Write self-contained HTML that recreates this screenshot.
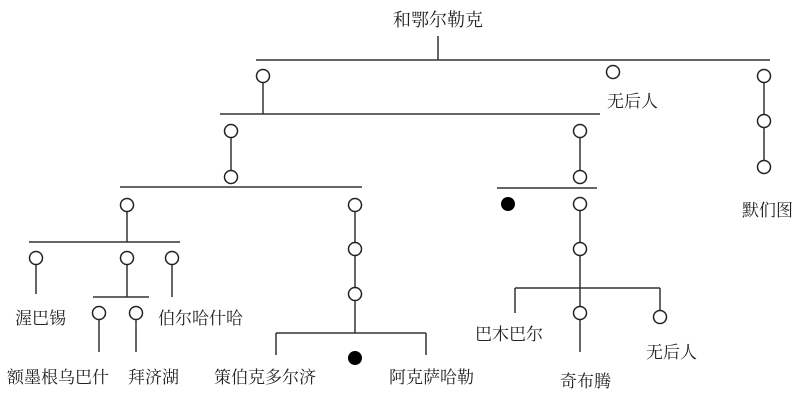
<!DOCTYPE html>
<html><head><meta charset="utf-8"><style>
html,body{margin:0;padding:0;background:#fff;}
svg text{font-family:"Liberation Serif","Noto Serif CJK SC",serif;font-size:17px;fill:#222;}
</style></head><body>
<svg width="800" height="404" viewBox="0 0 800 404" xmlns="http://www.w3.org/2000/svg">
<g stroke="#333" stroke-width="1.5" fill="none">
<line x1="438" y1="36" x2="438" y2="60"/>
<line x1="256" y1="60" x2="770" y2="60"/>
<line x1="263" y1="82" x2="263" y2="114"/>
<line x1="220" y1="114" x2="600" y2="114"/>
<line x1="231" y1="137" x2="231" y2="171"/>
<line x1="580" y1="137" x2="580" y2="171"/>
<line x1="764" y1="82" x2="764" y2="115"/>
<line x1="764" y1="127" x2="764" y2="161"/>
<line x1="120" y1="187" x2="362" y2="187"/>
<line x1="497" y1="188" x2="597" y2="188"/>
<line x1="127" y1="211" x2="127" y2="242"/>
<line x1="29" y1="242" x2="180" y2="242"/>
<line x1="36" y1="264" x2="36" y2="294"/>
<line x1="127" y1="264" x2="127" y2="297"/>
<line x1="172" y1="264" x2="172" y2="297"/>
<line x1="93" y1="297" x2="149" y2="297"/>
<line x1="99" y1="319" x2="99" y2="352"/>
<line x1="136" y1="319" x2="136" y2="352"/>
<line x1="355" y1="211" x2="355" y2="243"/>
<line x1="355" y1="255" x2="355" y2="288"/>
<line x1="355" y1="300" x2="355" y2="333"/>
<line x1="276" y1="333" x2="426" y2="333"/>
<line x1="276" y1="333" x2="276" y2="355"/>
<line x1="426" y1="333" x2="426" y2="355"/>
<line x1="580" y1="210" x2="580" y2="243"/>
<line x1="580" y1="255" x2="580" y2="288"/>
<line x1="515" y1="288" x2="660" y2="288"/>
<line x1="515" y1="288" x2="515" y2="313"/>
<line x1="580" y1="288" x2="580" y2="307"/>
<line x1="580" y1="319" x2="580" y2="352"/>
<line x1="660" y1="288" x2="660" y2="311"/>
</g>
<g stroke="#222" stroke-width="1.5" fill="#fff">
<circle cx="263" cy="76" r="6.5"/>
<circle cx="613" cy="72" r="6.5"/>
<circle cx="764" cy="76" r="6.5"/>
<circle cx="231" cy="131" r="6.5"/>
<circle cx="231" cy="177" r="6.5"/>
<circle cx="580" cy="131" r="6.5"/>
<circle cx="580" cy="177" r="6.5"/>
<circle cx="764" cy="121" r="6.5"/>
<circle cx="764" cy="167" r="6.5"/>
<circle cx="127" cy="205" r="6.5"/>
<circle cx="355" cy="205" r="6.5"/>
<circle cx="36" cy="258" r="6.5"/>
<circle cx="127" cy="258" r="6.5"/>
<circle cx="172" cy="258" r="6.5"/>
<circle cx="99" cy="313" r="6.5"/>
<circle cx="136" cy="313" r="6.5"/>
<circle cx="355" cy="249" r="6.5"/>
<circle cx="355" cy="294" r="6.5"/>
<circle cx="580" cy="204" r="6.5"/>
<circle cx="580" cy="249" r="6.5"/>
<circle cx="580" cy="313" r="6.5"/>
<circle cx="660" cy="317" r="6.5"/>
</g>
<g fill="#000">
<circle cx="508" cy="204" r="7"/>
<circle cx="355" cy="358" r="7"/>
</g>
<text x="438" y="26" text-anchor="middle" style="font-size:18px">和鄂尔勒克</text>
<text x="607" y="107">无后人</text>
<text x="742" y="216">默们图</text>
<text x="15" y="324">渥巴锡</text>
<text x="158" y="324">伯尔哈什哈</text>
<text x="7" y="383">额墨根乌巴什</text>
<text x="128" y="383">拜济湖</text>
<text x="214" y="383">策伯克多尔济</text>
<text x="389" y="383">阿克萨哈勒</text>
<text x="475" y="340">巴木巴尔</text>
<text x="560" y="387">奇布腾</text>
<text x="646" y="358">无后人</text>
</svg>
</body></html>
